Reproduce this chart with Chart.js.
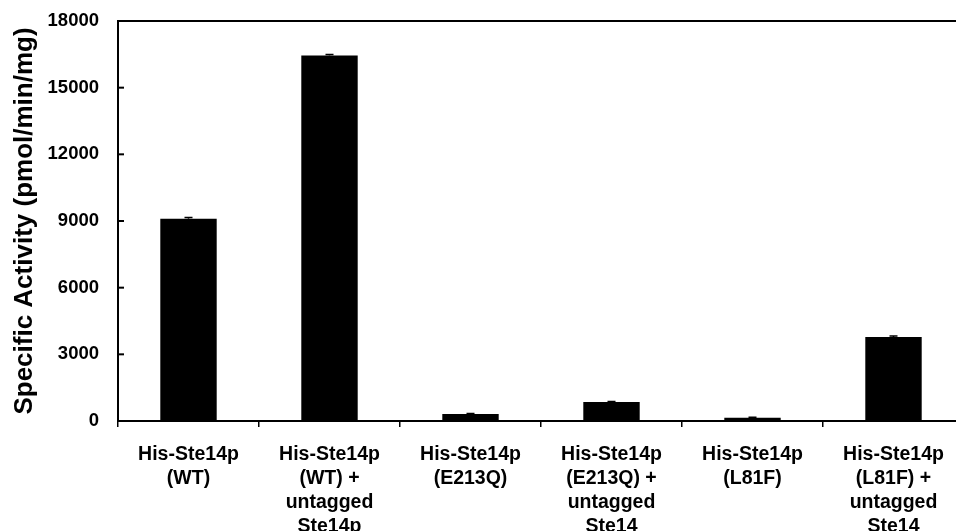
<!DOCTYPE html>
<html>
<head>
<meta charset="utf-8">
<script src="https://cdn.jsdelivr.net/npm/chart.js@4.4.1/dist/chart.umd.min.js"></script>
<style>
  html, body { margin: 0; padding: 0; background: #fff; overflow: hidden; }
  #wrap { position: absolute; left: 0; top: 0; width: 966px; height: 531px; }
</style>
</head>
<body>
<div id="wrap"><canvas id="chart"></canvas></div>
<script>
const categories = [
  ['His-Ste14p', '(WT)'],
  ['His-Ste14p', '(WT) +', 'untagged', 'Ste14p'],
  ['His-Ste14p', '(E213Q)'],
  ['His-Ste14p', '(E213Q) +', 'untagged', 'Ste14'],
  ['His-Ste14p', '(L81F)'],
  ['His-Ste14p', '(L81F) +', 'untagged', 'Ste14']
];
const activity = [9100, 16450, 320, 850, 150, 3780];
const errors = [60, 40, 20, 30, 20, 40];
const yTicks = [0, 3000, 6000, 9000, 12000, 15000, 18000];

const FONT = '"Liberation Sans", Arial, Helvetica, sans-serif';

// inward y ticks, frame line at top, error bars
const extras = {
  id: 'extras',
  afterDatasetsDraw(chart) {
    const { ctx, chartArea } = chart;
    const y = chart.scales.y;
    const meta = chart.getDatasetMeta(0);
    ctx.save();
    ctx.strokeStyle = '#000';

    ctx.lineWidth = 1.5;
    meta.data.forEach((bar, i) => {
      const top = y.getPixelForValue(activity[i] + errors[i]);
      const base = y.getPixelForValue(activity[i]);
      ctx.beginPath();
      ctx.moveTo(bar.x, base);
      ctx.lineTo(bar.x, top);
      ctx.moveTo(bar.x - 4, top);
      ctx.lineTo(bar.x + 4, top);
      ctx.stroke();
    });

    ctx.lineWidth = 2;
    yTicks.forEach(v => {
      const py = y.getPixelForValue(v);
      ctx.beginPath();
      ctx.moveTo(chartArea.left, py);
      ctx.lineTo(chartArea.left + 6, py);
      ctx.stroke();
    });

    ctx.beginPath();
    ctx.moveTo(chartArea.left, chartArea.top);
    ctx.lineTo(chartArea.right, chartArea.top);
    ctx.stroke();
    ctx.restore();
  }
};

new Chart(document.getElementById('chart'), {
  type: 'bar',
  data: {
    labels: categories,
    datasets: [{
      data: activity,
      backgroundColor: '#000',
      borderWidth: 0,
      categoryPercentage: 1,
      barPercentage: 0.4
    }]
  },
  options: {
    responsive: true,
    maintainAspectRatio: false,
    animation: false,
    layout: { padding: { left: 0, right: 2, top: 21, bottom: 0 } },
    plugins: { legend: { display: false }, tooltip: { enabled: false } },
    scales: {
      x: {
        grid: { display: true, drawOnChartArea: false, drawTicks: true, tickLength: 6, color: '#000', lineWidth: 1.5 },
        border: { display: true, color: '#000', width: 2 },
        ticks: {
          color: '#000',
          padding: 16,
          maxRotation: 0,
          autoSkip: false,
          font: { family: FONT, size: 19.5, weight: 'bold', lineHeight: 1.22 }
        },
        afterFit(scale) { scale.height = 110; }
      },
      y: {
        min: 0,
        max: 18000,
        afterBuildTicks(scale) { scale.ticks = yTicks.map(v => ({ value: v })); },
        grid: { display: false, drawTicks: false },
        border: { display: true, color: '#000', width: 2 },
        ticks: {
          color: '#000',
          padding: 19,
          callback: v => String(v),
          font: { family: FONT, size: 18.5, weight: 'bold' }
        },
        title: {
          display: true,
          text: 'Specific Activity (pmol/min/mg)',
          color: '#000',
          padding: { top: 9, bottom: 0 },
          font: { family: FONT, size: 26, weight: 'bold', lineHeight: 1.2 }
        },
        afterFit(scale) {
          scale.width = 118;
          scale.paddingTop = 0;
          scale.paddingBottom = 0;
        }
      }
    }
  },
  plugins: [extras]
});
</script>
</body>
</html>
